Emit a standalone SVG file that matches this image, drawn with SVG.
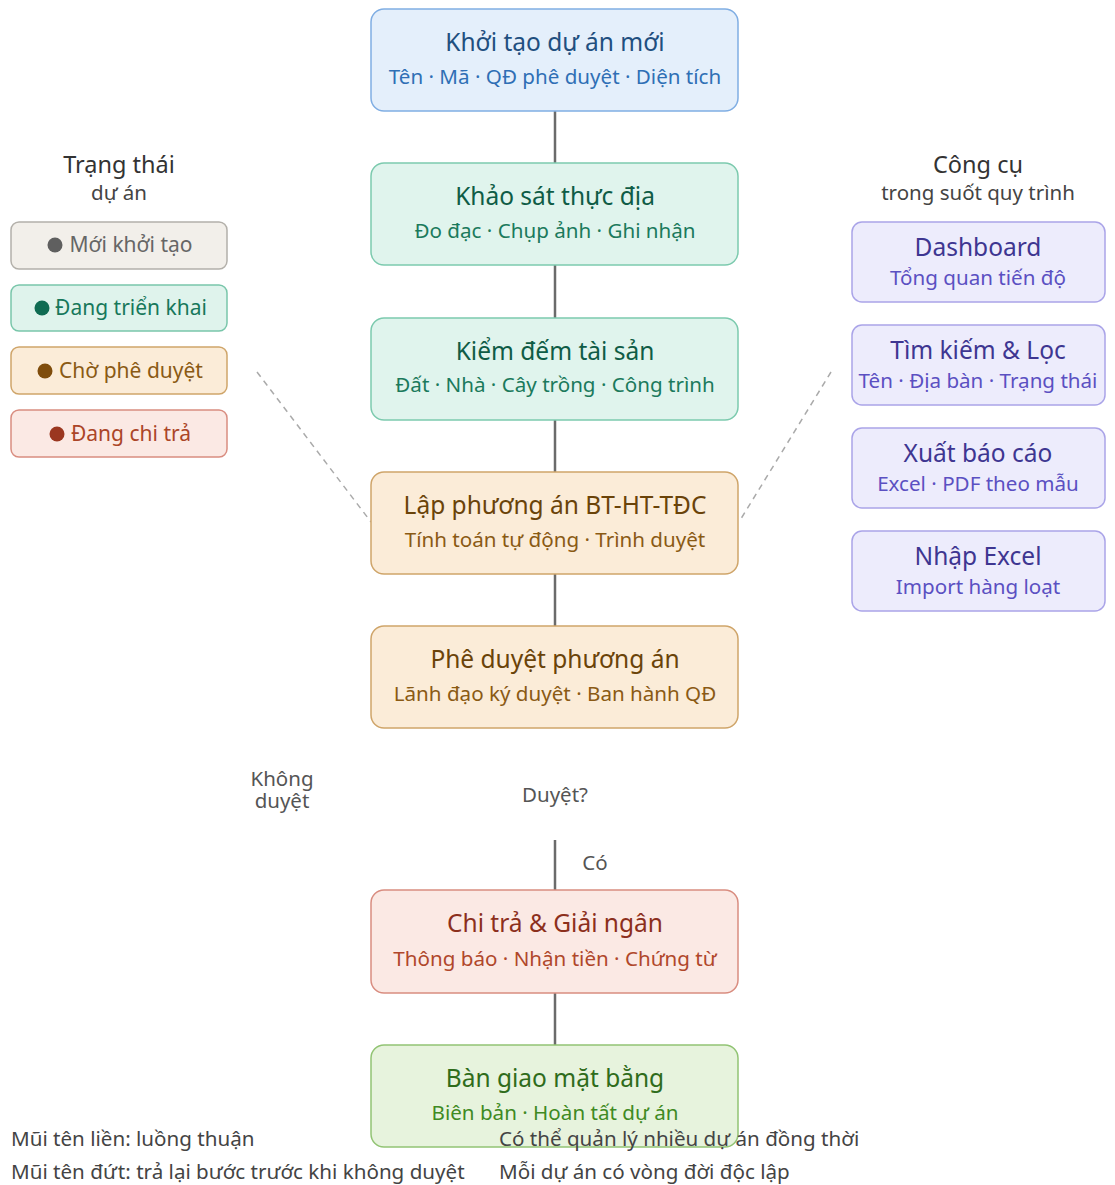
<svg xmlns="http://www.w3.org/2000/svg" width="1115" height="1185" viewBox="0 0 1115 1185">
<style>
text{font-family:"Noto Sans","Open Sans","DejaVu Sans",sans-serif;text-anchor:middle}
.t{font-size:24.5px}
.s{font-size:20.6px}
.lg{font-size:21px}
.h{font-size:23.5px;fill:#333}
.hs{font-size:20.5px;fill:#444}
.ft{font-size:20.6px;fill:#444;text-anchor:start}
.lab{font-size:20.5px;fill:#555}
.conn{stroke:#6b6b6b;stroke-width:2.5;fill:none}
.dash{stroke:#aaa;stroke-width:1.5;stroke-dasharray:6 5;fill:none}
.blue rect{fill:#e4effb;stroke:#80aee3;stroke-width:1.5}
.blue .t{fill:#1f4f80}.blue .s{fill:#2f6fb5}
.green rect{fill:#e0f4ed;stroke:#7ccaae;stroke-width:1.5}
.green .t{fill:#0f5c46}.green .s{fill:#1b7a5c}
.amber rect{fill:#fbecd8;stroke:#cfa56a;stroke-width:1.5}
.amber .t{fill:#6a4309}.amber .s{fill:#8a5a14}
.red rect{fill:#fbe9e4;stroke:#d98d80;stroke-width:1.5}
.red .t{fill:#8c2f1c}.red .s{fill:#b0472b}
.lime rect{fill:#e7f3dd;stroke:#92c474;stroke-width:1.5}
.lime .t{fill:#2f6c1b}.lime .s{fill:#3f8a23}
.tool rect{fill:#edecfc;stroke:#aaa4e8;stroke-width:1.5}
.tool .t{fill:#3e3691}.tool .s{fill:#5b50c2}
</style>
<g id="connectors">
<line class="conn" x1="555" y1="111" x2="555" y2="163"/>
<line class="conn" x1="555" y1="265" x2="555" y2="318"/>
<line class="conn" x1="555" y1="420" x2="555" y2="472"/>
<line class="conn" x1="555" y1="574" x2="555" y2="626"/>
<line class="conn" x1="555" y1="840" x2="555" y2="890"/>
<line class="conn" x1="555" y1="993" x2="555" y2="1045"/>
<line class="dash" x1="257" y1="372" x2="371" y2="522"/>
<line class="dash" x1="831" y1="372" x2="739" y2="522"/>
<text class="lab" x="282" y="786">Không</text>
<text class="lab" x="282" y="808">duyệt</text>
<text class="lab" x="555" y="802">Duyệt?</text>
<text class="lab" x="595" y="870">Có</text>
</g>
<g id="n1" class="blue"><rect x="371" y="9" width="367" height="102" rx="13"/><text class="t" x="555" y="51">Khởi tạo dự án mới</text><text class="s" x="555" y="84">Tên · Mã · QĐ phê duyệt · Diện tích</text></g>
<g id="n2" class="green"><rect x="371" y="163" width="367" height="102" rx="13"/><text class="t" x="555" y="205">Khảo sát thực địa</text><text class="s" x="555" y="238">Đo đạc · Chụp ảnh · Ghi nhận</text></g>
<g id="n3" class="green"><rect x="371" y="318" width="367" height="102" rx="13"/><text class="t" x="555" y="360">Kiểm đếm tài sản</text><text class="s" x="555" y="392">Đất · Nhà · Cây trồng · Công trình</text></g>
<g id="n4" class="amber"><rect x="371" y="472" width="367" height="102" rx="13"/><text class="t" x="555" y="514">Lập phương án BT-HT-TĐC</text><text class="s" x="555" y="547">Tính toán tự động · Trình duyệt</text></g>
<g id="n5" class="amber"><rect x="371" y="626" width="367" height="102" rx="13"/><text class="t" x="555" y="668">Phê duyệt phương án</text><text class="s" x="555" y="701">Lãnh đạo ký duyệt · Ban hành QĐ</text></g>
<g id="n6" class="red"><rect x="371" y="890" width="367" height="103" rx="13"/><text class="t" x="555" y="932">Chi trả &amp; Giải ngân</text><text class="s" x="555" y="966">Thông báo · Nhận tiền · Chứng từ</text></g>
<g id="n7" class="lime"><rect x="371" y="1045" width="367" height="102" rx="13"/><text class="t" x="555" y="1087">Bàn giao mặt bằng</text><text class="s" x="555" y="1120">Biên bản · Hoàn tất dự án</text></g>
<g id="legend">
<text class="h" x="119" y="173">Trạng thái</text>
<text class="hs" x="119" y="200">dự án</text>
<g id="st1"><rect x="11" y="222" width="216" height="47" rx="8" fill="#f2efea" stroke="#b3b0aa" stroke-width="1.5"/><circle cx="55" cy="245" r="7.5" fill="#5f5f5f"/><text class="lg" x="131" y="252" fill="#666">Mới khởi tạo</text></g>
<g id="st2"><rect x="11" y="285" width="216" height="46" rx="8" fill="#dff3ec" stroke="#79c6aa" stroke-width="1.5"/><circle cx="42" cy="308" r="7.5" fill="#0f6b52"/><text class="lg" x="131" y="315" fill="#17785b">Đang triển khai</text></g>
<g id="st3"><rect x="11" y="347" width="216" height="47" rx="8" fill="#fbecd8" stroke="#cfa56a" stroke-width="1.5"/><circle cx="45" cy="371" r="7.5" fill="#7f4d0c"/><text class="lg" x="131" y="378" fill="#8a5a14">Chờ phê duyệt</text></g>
<g id="st4"><rect x="11" y="410" width="216" height="47" rx="8" fill="#fbe9e4" stroke="#d98d80" stroke-width="1.5"/><circle cx="57" cy="434" r="7.5" fill="#9b3720"/><text class="lg" x="131" y="441" fill="#ab4528">Đang chi trả</text></g>
</g>
<g id="tools">
<text class="h" x="978" y="173">Công cụ</text>
<text class="hs" x="978" y="200">trong suốt quy trình</text>
<g id="t1" class="tool"><rect x="852" y="222" width="253" height="80" rx="10"/><text class="t" x="978" y="256">Dashboard</text><text class="s" x="978" y="285">Tổng quan tiến độ</text></g>
<g id="t2" class="tool"><rect x="852" y="325" width="253" height="80" rx="10"/><text class="t" x="978" y="359">Tìm kiếm &amp; Lọc</text><text class="s" x="978" y="388">Tên · Địa bàn · Trạng thái</text></g>
<g id="t3" class="tool"><rect x="852" y="428" width="253" height="80" rx="10"/><text class="t" x="978" y="462">Xuất báo cáo</text><text class="s" x="978" y="491">Excel · PDF theo mẫu</text></g>
<g id="t4" class="tool"><rect x="852" y="531" width="253" height="80" rx="10"/><text class="t" x="978" y="565">Nhập Excel</text><text class="s" x="978" y="594">Import hàng loạt</text></g>
</g>
<g id="footer">
<text class="ft" x="11" y="1146">Mũi tên liền: luồng thuận</text>
<text class="ft" x="11" y="1179">Mũi tên đứt: trả lại bước trước khi không duyệt</text>
<text class="ft" x="499" y="1146">Có thể quản lý nhiều dự án đồng thời</text>
<text class="ft" x="499" y="1179">Mỗi dự án có vòng đời độc lập</text>
</g>
</svg>
